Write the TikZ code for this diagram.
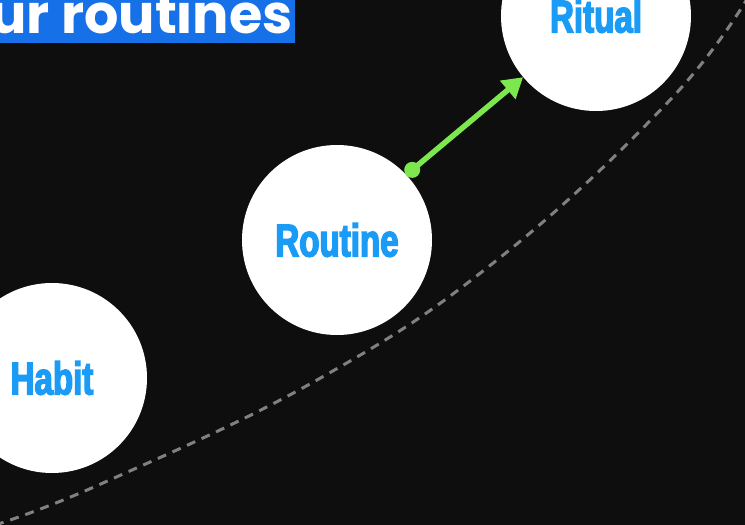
\documentclass[tikz,border=0pt]{standalone}
\usepackage{fontspec}
\setmainfont{Liberation Sans}
\newfontfamily\labelfont[FakeStretch=0.72,FakeBold=3]{Liberation Sans Bold}
\newfontfamily\titlefont{Poppins Bold}
\usetikzlibrary{arrows.meta,calc}
\definecolor{bgcol}{HTML}{0E0E0E}
\definecolor{titleblue}{HTML}{1670E8}
\definecolor{labelblue}{HTML}{1A9BF5}
\definecolor{arrowgreen}{HTML}{7DE84E}
\definecolor{dashgray}{HTML}{808080}
\tikzset{
  stage/.style={circle, fill=white, minimum size=190pt, inner sep=0pt,
    text=labelblue, font=\labelfont\fontsize{46}{46}\selectfont},
  flowarrow/.style={draw=arrowgreen, line width=5.5pt,
    -{Triangle[length=20pt,width=23pt]}},
  pathline/.style={draw=dashgray, line width=3pt, dash pattern=on 9pt off 7pt}
}
\begin{document}
\begin{tikzpicture}[x=1pt,y=-1pt]
\useasboundingbox (0,0) rectangle (745,525);
\clip (0,0) rectangle (745,525);
\fill[bgcol] (0,0) rectangle (745,525);
% dashed path
\draw[pathline] plot[smooth, tension=0.7] coordinates {(-5,525) (103,483) (317,380) (497,260) (670,100) (750,-6)};
% title
\fill[titleblue] (-5,-5) rectangle (295,43);
\node[anchor=base west, inner sep=0pt, text=white, font=\titlefont\fontsize{54}{54}\selectfont] (title) at (-10,33) {ur routines};
% stages
\node[stage] (habit) at (52,378) {Habit};
\node[stage] (routine) at (337,240) {Routine};
\node[stage] (ritual) at (596,16) {Ritual};
% arrow
\coordinate (start) at ($(routine.center)!1.08!(routine.43)$);
\draw[flowarrow] (start) -- (ritual.220);
\fill[arrowgreen] (start) circle (8pt);
\end{tikzpicture}
\end{document}
